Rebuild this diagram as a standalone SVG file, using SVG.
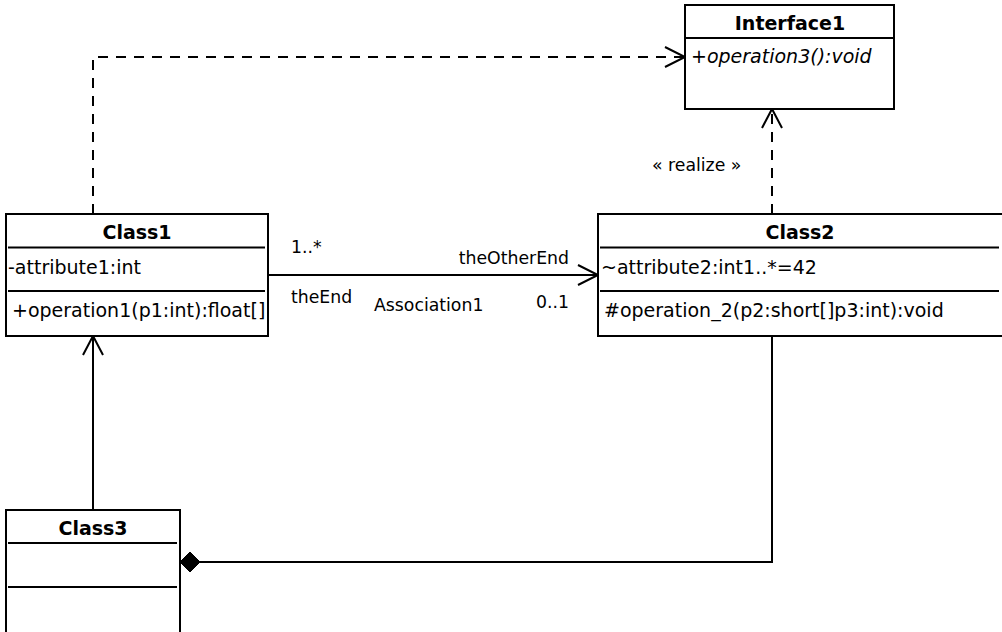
<svg xmlns="http://www.w3.org/2000/svg" width="1002" height="632" viewBox="0 0 1002 632">
  <style>
    .box { fill: #ffffff; stroke: #000000; stroke-width: 2; }
    .sep { stroke: #000000; stroke-width: 2; }
    .name { font-family: "DejaVu Sans", sans-serif; font-size: 19px; font-weight: bold; text-anchor: middle; fill: #000; }
    .member { font-family: "DejaVu Sans", sans-serif; font-size: 19px; fill: #000; }
    .abstract { font-style: italic; }
    .label { font-family: "DejaVu Sans", sans-serif; font-size: 17.3px; fill: #000; }
    .line { fill: none; stroke: #000000; stroke-width: 2; }
    .dashed { stroke-dasharray: 10 8; }
    .open { fill: none; stroke: #000000; stroke-width: 2; }
  </style>

  <!-- connectors -->
  <g id="connectors">
    <!-- Class1 depends on Interface1 -->
    <polyline class="line dashed" points="93,214 93,57 684,57"/>
    <polyline class="open" points="665,47 685,57 665,67"/>

    <!-- Class2 realizes Interface1 -->
    <line class="line dashed" x1="772" y1="214" x2="772" y2="111"/>
    <polyline class="open" points="762,128 772,109 782,128"/>
    <text class="label" x="652" y="171">« realize »</text>

    <!-- Association1: Class1 -> Class2 -->
    <line class="line" x1="268" y1="275" x2="597" y2="275"/>
    <polyline class="open" points="578,265 598,275 578,285"/>
    <text class="label" x="291" y="253">1..*</text>
    <text class="label" x="291" y="303">theEnd</text>
    <text class="label" x="374" y="311">Association1</text>
    <text class="label" x="569" y="264" text-anchor="end">theOtherEnd</text>
    <text class="label" x="569" y="308" text-anchor="end">0..1</text>

    <!-- Class3 generalizes Class1 -->
    <line class="line" x1="93" y1="510" x2="93" y2="338"/>
    <polyline class="open" points="83,355 93,336 103,355"/>

    <!-- Class2 composed into Class3 -->
    <polyline class="line" points="200,562 772,562 772,336"/>
    <polygon points="180,562 190,552 200,562 190,572" fill="#000" stroke="#000" stroke-width="1"/>
  </g>

  <!-- Interface1 -->
  <g id="interface1">
    <rect class="box" x="685" y="5" width="209" height="104"/>
    <text class="name" x="790" y="30">Interface1</text>
    <line class="sep" x1="685" y1="38" x2="894" y2="38"/>
    <text class="member abstract" x="691" y="63">+operation3():void</text>
  </g>

  <!-- Class1 -->
  <g id="class1">
    <rect class="box" x="6" y="214" width="262" height="122"/>
    <text class="name" x="137" y="239">Class1</text>
    <line class="sep" x1="8" y1="247.5" x2="265" y2="247.5"/>
    <text class="member" x="8" y="274">-attribute1:int</text>
    <line class="sep" x1="8" y1="291" x2="265" y2="291"/>
    <text class="member" x="12" y="317">+operation1(p1:int):float[]</text>
  </g>

  <!-- Class2 -->
  <g id="class2">
    <rect class="box" x="598" y="214" width="405" height="122"/>
    <text class="name" x="800" y="239">Class2</text>
    <line class="sep" x1="600" y1="247.5" x2="999" y2="247.5"/>
    <text class="member" x="601" y="274">~attribute2:int1..*=42</text>
    <line class="sep" x1="600" y1="291" x2="999" y2="291"/>
    <text class="member" x="604" y="317">#operation_2(p2:short[]p3:int):void</text>
  </g>

  <!-- Class3 -->
  <g id="class3">
    <rect class="box" x="6" y="510" width="174" height="130"/>
    <text class="name" x="93" y="535">Class3</text>
    <line class="sep" x1="8" y1="543" x2="177" y2="543"/>
    <line class="sep" x1="8" y1="587" x2="177" y2="587"/>
  </g>
</svg>
